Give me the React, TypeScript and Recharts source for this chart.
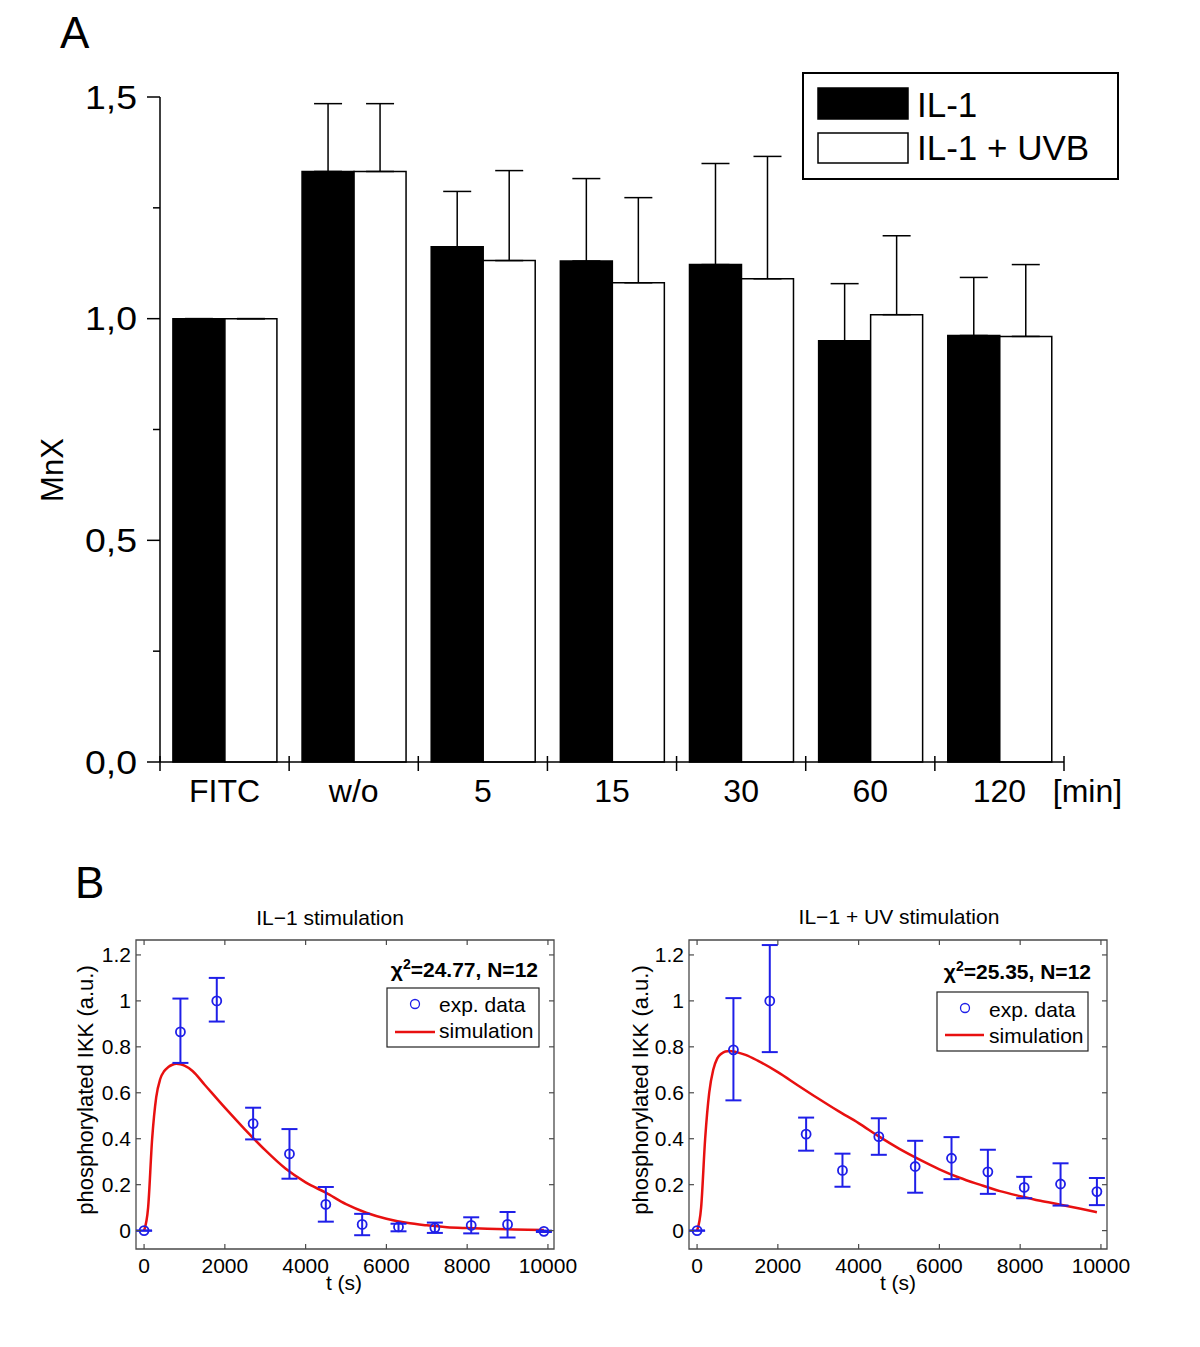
import React from "react";
import { BarChart, Bar, XAxis, YAxis, ErrorBar, ComposedChart, Scatter, Line, ReferenceArea } from "recharts";

// ---- panel A data ----
const categories = ["FITC", "w/o", "5", "15", "30", "60", "120"];
const il1Mean = [1.0, 1.332, 1.162, 1.13, 1.122, 0.95, 0.962];
const il1Upper = [1.0, 1.485, 1.287, 1.316, 1.35, 1.079, 1.093];
const uvbMean = [1.0, 1.332, 1.131, 1.081, 1.09, 1.009, 0.96];
const uvbUpper = [1.0, 1.485, 1.334, 1.273, 1.366, 1.187, 1.122];
const aTicks = [0, 0.25, 0.5, 0.75, 1, 1.25, 1.5];

// ---- panel B data ----
const tSec = [0, 900, 1800, 2700, 3600, 4500, 5400, 6300, 7200, 8100, 9000, 9900];
const il1Exp = [0, 0.865, 1.0, 0.466, 0.334, 0.114, 0.027, 0.016, 0.012, 0.023, 0.027, -0.003];
const il1Lo = [0, 0.73, 0.91, 0.397, 0.226, 0.039, -0.02, -0.003, -0.01, -0.012, -0.03, -0.006];
const il1Hi = [0, 1.01, 1.1, 0.535, 0.442, 0.19, 0.073, 0.03, 0.035, 0.058, 0.081, 0.0];
const uvExp = [0, 0.787, 1.0, 0.42, 0.262, 0.409, 0.279, 0.315, 0.256, 0.188, 0.203, 0.17];
const uvLo = [0, 0.567, 0.777, 0.348, 0.191, 0.33, 0.165, 0.224, 0.16, 0.141, 0.109, 0.111];
const uvHi = [0, 1.012, 1.243, 0.492, 0.335, 0.489, 0.391, 0.407, 0.352, 0.234, 0.293, 0.229];

const simT = [0, 100, 200, 300, 400, 500, 600, 700, 800, 900, 1000, 1200, 1500, 2000, 2500, 3000, 3500, 4000, 4500, 5000, 5500, 6000, 6500, 7000, 7500, 8000, 8500, 9000, 9500, 9900];
const il1Sim = [0, 0.1, 0.4, 0.58, 0.66, 0.695, 0.712, 0.722, 0.726, 0.724, 0.718, 0.695, 0.635, 0.535, 0.44, 0.35, 0.27, 0.21, 0.165, 0.115, 0.078, 0.052, 0.034, 0.023, 0.015, 0.011, 0.008, 0.006, 0.004, 0.003];
const uvSim = [0, 0.1, 0.4, 0.6, 0.7, 0.75, 0.77, 0.78, 0.782, 0.78, 0.776, 0.765, 0.74, 0.69, 0.632, 0.575, 0.52, 0.468, 0.41, 0.357, 0.31, 0.267, 0.23, 0.2, 0.172, 0.15, 0.13, 0.113, 0.095, 0.08];

const bXTicks = [0, 2000, 4000, 6000, 8000, 10000];
const bYTicks = [0, 0.2, 0.4, 0.6, 0.8, 1, 1.2];

const FONT = '"Liberation Sans", Arial, Helvetica, sans-serif';
const BLUE = "#1f1fe8";
const RED = "#e81010";
const FRAME = "#4a4a4a";

// panel A geometry
const A_LEFT = 160;
const A_RIGHT = 1064;
const A_BOTTOM = 762;
const A_BAND = (A_RIGHT - A_LEFT) / categories.length;

const barData = categories.map((name, i) => ({
  name,
  il1: il1Mean[i],
  il1Err: [0, il1Upper[i] - il1Mean[i]],
  uvb: uvbMean[i],
  uvbErr: [0, uvbUpper[i] - uvbMean[i]],
}));

function AYTick({ y, payload }: any) {
  const v = payload.value;
  const major = Math.abs(v * 2 - Math.round(v * 2)) < 1e-6;
  return (
    <g>
      <line x1={major ? A_LEFT - 13 : A_LEFT - 7} x2={A_LEFT} y1={y} y2={y} stroke="#000" strokeWidth={1.5} />
      {major && (
        <text x={A_LEFT - 23} y={y} dy="0.34em" textAnchor="end" fontSize={34} fontFamily={FONT} fill="#000"
          textLength={52} lengthAdjust="spacingAndGlyphs">
          {v.toFixed(1).replace(".", ",")}
        </text>
      )}
    </g>
  );
}

function AXTick({ x, payload, index }: any) {
  const last = index === categories.length - 1;
  return (
    <g>
      <line x1={x - A_BAND / 2} x2={x - A_BAND / 2} y1={A_BOTTOM - 6} y2={A_BOTTOM + 9} stroke="#000" strokeWidth={1.5} />
      {last && <line x1={x + A_BAND / 2} x2={x + A_BAND / 2} y1={A_BOTTOM - 6} y2={A_BOTTOM + 9} stroke="#000" strokeWidth={1.5} />}
      <text x={x} y={802} textAnchor="middle" fontSize={32} fontFamily={FONT} fill="#000">{payload.value}</text>
      {last && <text x={x + 88} y={802} textAnchor="middle" fontSize={32} fontFamily={FONT} fill="#000">[min]</text>}
    </g>
  );
}

// panel B geometry (local to each chart)
const PL = 136;
const PR = 554;
const PT = 40;
const PB = 349;

function BXTick({ x, payload }: any) {
  return (
    <g>
      <line x1={x} x2={x} y1={PB} y2={PB - 5} stroke={FRAME} strokeWidth={1.2} />
      <line x1={x} x2={x} y1={PT} y2={PT + 5} stroke={FRAME} strokeWidth={1.2} />
      <text x={x} y={373} textAnchor="middle" fontSize={21} fontFamily={FONT} fill="#000">{payload.value}</text>
    </g>
  );
}

function BYTick({ y, payload }: any) {
  return (
    <g>
      <line x1={PL} x2={PL + 5} y1={y} y2={y} stroke={FRAME} strokeWidth={1.2} />
      <line x1={PR - 5} x2={PR} y1={y} y2={y} stroke={FRAME} strokeWidth={1.2} />
      <text x={PL - 5} y={y} dy="0.36em" textAnchor="end" fontSize={21} fontFamily={FONT} fill="#000">{String(payload.value)}</text>
    </g>
  );
}

function Ring({ cx, cy }: any) {
  return <circle cx={cx} cy={cy} r={4.5} fill="none" stroke={BLUE} strokeWidth={1.8} />;
}

function KinPlot({ left, exp, lo, hi, sim }: { left: number; exp: number[]; lo: number[]; hi: number[]; sim: number[] }) {
  const pts = tSec.map((t, i) => ({ t, y: exp[i], err: [exp[i] - lo[i], hi[i] - exp[i]] }));
  const curve = simT.map((t, i) => ({ t, y: sim[i] }));
  return (
    <div style={{ position: "absolute", left, top: 900 }}>
      <ComposedChart width={600} height={420} margin={{ top: PT, right: 600 - PR, bottom: 11, left: 76 }}>
        <ReferenceArea x1={-200} x2={10150} y1={-0.08} y2={1.265} fill="none" stroke={FRAME} strokeWidth={1.3} />
        <XAxis type="number" dataKey="t" domain={[-200, 10150]} ticks={bXTicks} allowDataOverflow interval={0}
          axisLine={false} tickLine={false} tick={<BXTick />} height={60} />
        <YAxis type="number" dataKey="y" domain={[-0.08, 1.265]} ticks={bYTicks} allowDataOverflow interval={0}
          axisLine={false} tickLine={false} tick={<BYTick />} width={60} />
        <Line data={curve} dataKey="y" type="monotone" stroke={RED} strokeWidth={2.5} dot={false} isAnimationActive={false} />
        <Scatter data={pts} dataKey="y" shape={<Ring />} isAnimationActive={false}>
          <ErrorBar dataKey="err" direction="y" width={8} stroke={BLUE} strokeWidth={2} />
        </Scatter>
      </ComposedChart>
    </div>
  );
}

export default function App() {
  const txt = { fontFamily: FONT, fill: "#000" } as const;
  return (
    <div style={{ position: "absolute", left: 0, top: 0, width: 1200, height: 1347, background: "#fff" }}>
      <div style={{ position: "absolute", left: 0, top: 0 }}>
        <BarChart width={1200} height={830} data={barData} margin={{ top: 97, right: 1200 - A_RIGHT, bottom: 8, left: 100 }}
          barGap={0} barCategoryGap="10%">
          <XAxis dataKey="name" axisLine={{ stroke: "#000", strokeWidth: 1.5 }} tickLine={false} tick={<AXTick />} height={60} interval={0} />
          <YAxis domain={[0, 1.5]} ticks={aTicks} axisLine={{ stroke: "#000", strokeWidth: 1.5 }} tickLine={false} tick={<AYTick />} width={60} interval={0} />
          <Bar dataKey="il1" fill="#000" stroke="#000" strokeWidth={1.5} isAnimationActive={false}>
            <ErrorBar dataKey="il1Err" direction="y" width={14} stroke="#000" strokeWidth={1.5} />
          </Bar>
          <Bar dataKey="uvb" fill="#fff" stroke="#000" strokeWidth={1.5} isAnimationActive={false}>
            <ErrorBar dataKey="uvbErr" direction="y" width={14} stroke="#000" strokeWidth={1.5} />
          </Bar>
        </BarChart>
      </div>

      <KinPlot left={0} exp={il1Exp} lo={il1Lo} hi={il1Hi} sim={il1Sim} />
      <KinPlot left={553} exp={uvExp} lo={uvLo} hi={uvHi} sim={uvSim} />

      <svg width={1200} height={1347} style={{ position: "absolute", left: 0, top: 0, pointerEvents: "none" }}>
        <text x={60} y={48} fontSize={44} {...txt}>A</text>
        <text x={75} y={898} fontSize={44} {...txt}>B</text>
        <text transform="translate(63,470) rotate(-90)" textAnchor="middle" fontSize={31} {...txt}>MnX</text>

        {/* legend A */}
        <rect x={803} y={73} width={315} height={106} fill="#fff" stroke="#000" strokeWidth={2} />
        <rect x={818} y={88} width={90} height={31} fill="#000" stroke="#000" strokeWidth={1.5} />
        <rect x={818} y={133} width={90} height={30} fill="#fff" stroke="#000" strokeWidth={1.5} />
        <text x={917} y={117} fontSize={35} {...txt}>IL-1</text>
        <text x={917} y={160} fontSize={35} {...txt}>IL-1 + UVB</text>

        {/* panel B titles and labels */}
        <text x={330} y={925} textAnchor="middle" fontSize={21} {...txt}>IL−1 stimulation</text>
        <text x={899} y={924} textAnchor="middle" fontSize={21} {...txt}>IL−1 + UV stimulation</text>
        <text x={344} y={1290} textAnchor="middle" fontSize={21} {...txt}>t (s)</text>
        <text x={898} y={1290} textAnchor="middle" fontSize={21} {...txt}>t (s)</text>
        <text transform="translate(93,1090) rotate(-90)" textAnchor="middle" fontSize={22} {...txt}>phosphorylated IKK (a.u.)</text>
        <text transform="translate(648,1090) rotate(-90)" textAnchor="middle" fontSize={22} {...txt}>phosphorylated IKK (a.u.)</text>

        <text x={538} y={977} textAnchor="end" fontSize={21} fontWeight="bold" {...txt}>
          χ<tspan dy={-8} fontSize={14}>2</tspan><tspan dy={8}>=24.77, N=12</tspan>
        </text>
        <text x={1091} y={979} textAnchor="end" fontSize={21} fontWeight="bold" {...txt}>
          χ<tspan dy={-8} fontSize={14}>2</tspan><tspan dy={8}>=25.35, N=12</tspan>
        </text>

        {/* legend B left */}
        <rect x={387} y={988} width={152} height={59} fill="#fff" stroke="#222" strokeWidth={1.2} />
        <circle cx={415} cy={1004} r={4.5} fill="none" stroke={BLUE} strokeWidth={1.3} />
        <text x={439} y={1012} fontSize={21} {...txt}>exp. data</text>
        <line x1={395} x2={435} y1={1032} y2={1032} stroke={RED} strokeWidth={2.5} />
        <text x={439} y={1038} fontSize={21} {...txt}>simulation</text>

        {/* legend B right */}
        <rect x={937} y={992} width={151} height={59} fill="#fff" stroke="#222" strokeWidth={1.2} />
        <circle cx={965} cy={1008} r={4.5} fill="none" stroke={BLUE} strokeWidth={1.3} />
        <text x={989} y={1017} fontSize={21} {...txt}>exp. data</text>
        <line x1={945} x2={984} y1={1035} y2={1035} stroke={RED} strokeWidth={2.5} />
        <text x={989} y={1043} fontSize={21} {...txt}>simulation</text>
      </svg>
    </div>
  );
}
